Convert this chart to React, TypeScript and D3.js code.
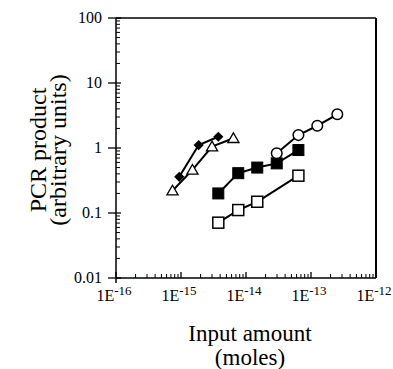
import React from 'react';
import * as d3 from 'd3';

// values (moles, arbitrary units)
const triX = [7.4e-16, 1.5e-15, 3.0e-15, 6.4e-15];
const triY = [0.22, 0.46, 1.05, 1.41];
const diaX = [9.4e-16, 1.87e-15, 3.75e-15];
const diaY = [0.36, 1.11, 1.49];
const fsqX = [3.75e-15, 7.6e-15, 1.49e-14, 2.97e-14, 6.4e-14];
const fsqY = [0.2, 0.41, 0.5, 0.58, 0.93];
const osqX = [3.75e-15, 7.6e-15, 1.49e-14, 6.4e-14];
const osqY = [0.071, 0.111, 0.149, 0.375];
const cirX = [2.97e-14, 6.4e-14, 1.25e-13, 2.54e-13];
const cirY = [0.83, 1.58, 2.2, 3.3];

const yTickLabels = ['0.01', '0.1', '1', '10', '100'];
const xExponents = ['-16', '-15', '-14', '-13', '-12'];

const W = 393;
const H = 369;
const margin = { top: 18, right: 17, bottom: 91, left: 116 };
const FONT = '"Liberation Serif", "Times New Roman", serif';

const App = () => {
  const x = d3.scaleLog().domain([1e-16, 1e-12]).range([margin.left, W - margin.right]);
  const y = d3.scaleLog().domain([0.01, 100]).range([H - margin.bottom, margin.top]);
  const [x0, x1] = x.range();
  const [y0, y1] = y.range();

  const line = d3.line<[number, number]>()
    .x(d => x(d[0]))
    .y(d => y(d[1]));
  const pts = (xs: number[], ys: number[]) => xs.map((v, i) => [v, ys[i]] as [number, number]);

  // minor ticks (2..9 in each decade)
  const minorX: number[] = [];
  for (let e = -16; e < -12; e++) for (let k = 2; k < 10; k++) minorX.push(k * Math.pow(10, e));
  const minorY: number[] = [];
  for (let e = -2; e < 2; e++) for (let k = 2; k < 10; k++) minorY.push(k * Math.pow(10, e));
  const majorX = xExponents.map(e => Math.pow(10, +e));
  const majorY = yTickLabels.map(Number);

  const tri = d3.symbol().type(d3.symbolTriangle).size(54)() as string;

  const series = (xs: number[], ys: number[]) => (
    <path d={line(pts(xs, ys)) as string} fill="none" stroke="#000" strokeWidth={2} />
  );

  return (
    <svg width={W} height={H} style={{ position: 'absolute', left: 0, top: 0, background: '#fff' }}>
      {/* frame */}
      <line x1={x0} x2={x0} y1={y1} y2={y0 + 5} stroke="#000" strokeWidth={1.5} />
      <line x1={x0} x2={x1} y1={y0} y2={y0} stroke="#000" strokeWidth={1.5} />
      <line x1={x0} x2={x1} y1={y1} y2={y1} stroke="#000" strokeWidth={1.5} />
      <line x1={x1} x2={x1} y1={y1} y2={y0} stroke="#000" strokeWidth={2} />

      {/* y ticks */}
      {minorY.map((v, i) => (
        <line key={'ym' + i} x1={x0} x2={x0 + 4} y1={y(v)} y2={y(v)} stroke="#000" strokeWidth={1} />
      ))}
      {majorY.map((v, i) => (
        <g key={'yM' + i}>
          <line x1={x0 - 8} x2={x0 + 5} y1={y(v)} y2={y(v)} stroke="#000" strokeWidth={1.3} />
          <text x={x0 - 14} y={y(v)} dy="0.3em" textAnchor="end" fontSize={16}
            fontFamily={FONT}>{yTickLabels[i]}</text>
        </g>
      ))}

      {/* x ticks */}
      {minorX.map((v, i) => (
        <line key={'xm' + i} x1={x(v)} x2={x(v)} y1={y0} y2={y0 - 4} stroke="#000" strokeWidth={1} />
      ))}
      {majorX.map((v, i) => (
        <g key={'xM' + i}>
          <line x1={x(v)} x2={x(v)} y1={y0} y2={y0 - 6} stroke="#000" strokeWidth={1.3} />
          <text x={x(v) - 2} y={y0 + 23} textAnchor="middle" fontSize={16} fontFamily={FONT}>
            1E<tspan fontSize={13} dy={-6}>{xExponents[i]}</tspan>
          </text>
        </g>
      ))}

      {/* axis titles */}
      <text x={250} y={341} textAnchor="middle" fontSize={23} fontFamily={FONT}>Input amount</text>
      <text x={250} y={365} textAnchor="middle" fontSize={23} fontFamily={FONT}>(moles)</text>
      <g transform={`translate(46,${(y0 + y1) / 2 + 2}) rotate(-90)`}>
        <text x={0} y={0} textAnchor="middle" fontSize={24} fontFamily={FONT}>PCR product</text>
        <text x={0} y={20} textAnchor="middle" fontSize={24} fontFamily={FONT}>(arbitrary units)</text>
      </g>

      {/* series lines */}
      {series(osqX, osqY)}
      {series(fsqX, fsqY)}
      {series(cirX, cirY)}
      {series(diaX, diaY)}
      {series(triX, triY)}

      {/* markers */}
      {pts(osqX, osqY).map((d, i) => (
        <rect key={'os' + i} x={x(d[0]) - 5.5} y={y(d[1]) - 5.5} width={11} height={11}
          fill="#fff" stroke="#000" strokeWidth={1.5} />
      ))}
      {pts(fsqX, fsqY).map((d, i) => (
        <rect key={'fs' + i} x={x(d[0]) - 5.5} y={y(d[1]) - 5.5} width={11} height={11}
          fill="#000" stroke="#000" strokeWidth={1} />
      ))}
      {pts(cirX, cirY).map((d, i) => (
        <circle key={'c' + i} cx={x(d[0])} cy={y(d[1])} r={5.3}
          fill="#fff" stroke="#000" strokeWidth={1.5} />
      ))}
      {pts(diaX, diaY).map((d, i) => (
        <rect key={'d' + i} x={-3.6} y={-3.6} width={7.2} height={7.2}
          transform={`translate(${x(d[0])},${y(d[1])}) rotate(45)`} fill="#000" />
      ))}
      {pts(triX, triY).map((d, i) => (
        <path key={'t' + i} d={tri} transform={`translate(${x(d[0])},${y(d[1]) + 1})`}
          fill="#fff" stroke="#000" strokeWidth={1.3} />
      ))}
    </svg>
  );
};

export default App;
